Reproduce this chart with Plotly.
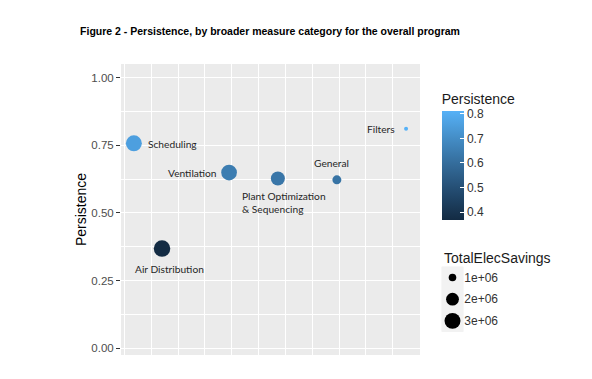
import numpy as np
import plotly.graph_objects as go

# ---------------- data ----------------
categories = ["Scheduling", "Air Distribution", "Ventilation",
              "Plant Optimization<br>& Sequencing", "General", "Filters"]
x_pos = [0.35, 1.40, 3.90, 5.72, 7.92, 10.50]          # unlabeled horizontal position
persistence = [0.757, 0.368, 0.649, 0.627, 0.622, 0.811]
total_elec_savings = [3.0e6, 3.2e6, 2.9e6, 2.34e6, 1.18e6, 0.8e6]

size_legend_values = [1e6, 2e6, 3e6]
size_legend_labels = ["1e+06", "2e+06", "3e+06"]
color_ticks = [0.4, 0.5, 0.6, 0.7, 0.8]
y_ticks = [0.0, 0.25, 0.50, 0.75, 1.00]
y_tick_labels = ["0.00", "0.25", "0.50", "0.75", "1.00"]

# label placement (pixel offsets from point, anchors)
label_style = {
    "Scheduling": dict(xanchor="left", xshift=12, yshift=-1),
    "Air Distribution": dict(xanchor="center", xshift=7, yshift=-20),
    "Ventilation": dict(xanchor="right", xshift=-10, yshift=0),
    "Plant Optimization<br>& Sequencing": dict(xanchor="left", xshift=-38, yshift=-24),
    "General": dict(xanchor="center", xshift=-5, yshift=17),
    "Filters": dict(xanchor="right", xshift=-9, yshift=0),
}

# ---------------- scales (ggplot-like area scale) ----------------
vmin, vmax = min(total_elec_savings), max(total_elec_savings)
dmin, dmax = 4.0, 16.5


def size_scale(v):
    v = np.asarray(v, dtype=float)
    return dmin + (dmax - dmin) * np.sqrt(np.clip((v - vmin) / (vmax - vmin), 0, 1))


colorscale = [[0.0, "#132B43"], [0.25, "#22496D"], [0.5, "#336A98"],
              [0.75, "#448DC6"], [1.0, "#56B1F7"]]

# page body has an 8px margin: work in screen coords and subtract it
OFF = 8
W, H = 592 - OFF, 379 - OFF
PANEL_L, PANEL_R, PANEL_T, PANEL_B = 121, 420, 64, 355   # screen coords
ML = PANEL_L - OFF
MT = PANEL_T - OFF
MB = H - (PANEL_B - OFF)
MR = 10
PW = W - ML - MR
PH = H - MT - MB


def px_x(p):
    return (p - OFF - ML) / PW


def px_y(p):
    return (H - MB - (p - OFF)) / PH


fig = go.Figure()

fig.add_trace(go.Scatter(
    x=x_pos, y=persistence, mode="markers",
    marker=dict(size=size_scale(total_elec_savings), color=persistence,
                colorscale=colorscale, cmin=min(persistence), cmax=max(persistence),
                opacity=1, line=dict(width=0),
                colorbar=dict(
                    title=dict(text="Persistence", side="top",
                               font=dict(size=14, color="#1a1a1a", family="Liberation Sans")),
                    x=px_x(441.7), xanchor="left", xref="paper",
                    y=px_y(220), yanchor="bottom", yref="paper",
                    len=220 - 90.5, lenmode="pixels", thickness=21.6,
                    outlinewidth=0, tickvals=color_ticks,
                    ticks="inside", tickcolor="white", ticklen=4,
                    tickfont=dict(size=12, color="#333333", family="Liberation Sans"),
                    ypad=0, xpad=0,
                )),
    showlegend=False, hoverinfo="skip", xaxis="x", yaxis="y",
))

# size legend keys
fig.add_trace(go.Scatter(
    x=[0.5] * len(size_legend_values), y=[1, 2, 3], mode="markers",
    marker=dict(size=size_scale(size_legend_values), color="#000000", opacity=1,
                line=dict(width=0)),
    showlegend=False, hoverinfo="skip", xaxis="x2", yaxis="y2",
))

for cat, xv, yv in zip(categories, x_pos, persistence):
    st = label_style[cat]
    fig.add_annotation(x=xv, y=yv, xref="x", yref="y", text=cat, showarrow=False,
                       xanchor=st["xanchor"], yanchor="middle", align="left",
                       xshift=st["xshift"], yshift=st["yshift"],
                       font=dict(family="Lato", size=10.2, color="#262626"))

fig.add_annotation(x=px_x(441.7), y=px_y(257.7), xref="paper", yref="paper",
                   text="TotalElecSavings", showarrow=False, xanchor="left", yanchor="middle",
                   font=dict(size=14, color="#1a1a1a", family="Liberation Sans"))

# key background
fig.add_shape(type="rect", xref="x2 domain", yref="y2 domain", x0=0, x1=1, y0=0, y1=1,
              fillcolor="#F2F2F2", line=dict(width=0), layer="below")

grid_x = list(range(0, 12))

fig.update_layout(
    width=W, height=H,
    margin=dict(l=ML, r=MR, t=MT, b=MB),
    paper_bgcolor="white", plot_bgcolor="#EBEBEB",
    font=dict(family="Liberation Sans"),
    title=dict(text="<b>Figure 2 - Persistence, by broader measure category for the overall program</b>",
               x=(270 - OFF) / W, xanchor="center", xref="container",
               y=1 - (31.7 - OFF) / H, yanchor="middle", yref="container",
               font=dict(size=10.5, color="black", family="Liberation Sans")),
    xaxis=dict(domain=[0, (PANEL_R - PANEL_L) / PW], range=[-0.13, 11.02], tickvals=grid_x,
               showticklabels=False, ticks="", showgrid=True, gridcolor="white",
               gridwidth=0.8, zeroline=False, showline=False, fixedrange=True),
    yaxis=dict(domain=[0, 1], range=[-0.025, 1.05], tickvals=y_ticks, ticktext=y_tick_labels,
               ticks="outside", ticklen=4, tickcolor="#333333", tickwidth=1,
               tickfont=dict(size=11.5, color="#4D4D4D"),
               showgrid=True, gridcolor="white", gridwidth=1.1, zeroline=False,
               minor=dict(tickvals=[0.125, 0.375, 0.625, 0.875], showgrid=True,
                          gridcolor="white", gridwidth=0.5, ticks=""),
               title=dict(text="Persistence", standoff=1, font=dict(size=14, color="black")),
               fixedrange=True),
    xaxis2=dict(domain=[px_x(441.7), px_x(463.3)], range=[0, 1], anchor="y2",
                showticklabels=False, ticks="", showgrid=False, zeroline=False, visible=False),
    yaxis2=dict(domain=[px_y(331.7), px_y(266.7)], range=[3.5, 0.5], anchor="x2",
                side="right", tickvals=[1, 2, 3], ticktext=size_legend_labels, ticks="",
                showgrid=False, zeroline=False, showline=False,
                tickfont=dict(size=12, color="#333333")),
)

fig.write_html("out.html")
